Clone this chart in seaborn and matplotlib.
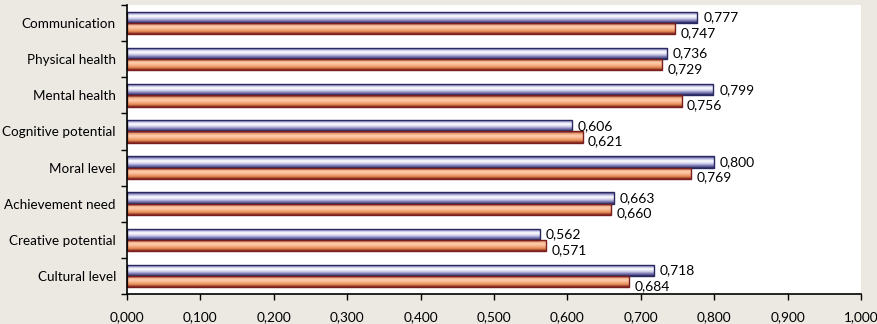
import numpy as np
import pandas as pd
import seaborn as sns
import matplotlib.pyplot as plt
from matplotlib.colors import LinearSegmentedColormap
from matplotlib.ticker import FuncFormatter, FixedLocator

categories = ['Communication', 'Physical health', 'Mental health', 'Cognitive potential',
              'Moral level', 'Achievement need', 'Creative potential', 'Cultural level']
series_a = [0.777, 0.736, 0.799, 0.606, 0.800, 0.663, 0.562, 0.718]
series_b = [0.747, 0.729, 0.756, 0.621, 0.769, 0.660, 0.571, 0.684]
series_names = ['A', 'B']

df = pd.DataFrame({
    'category': categories * 2,
    'value': series_a + series_b,
    'series': [series_names[0]] * len(categories) + [series_names[1]] * len(categories),
})

sns.set_theme(style='white')
plt.rcParams['font.family'] = ['Lato', 'DejaVu Sans']

fig = plt.figure(figsize=(8.78, 3.24), dpi=100)
fig.patch.set_facecolor('#ECE9E3')
ax = fig.add_axes([127 / 878, 1 - 294 / 324, 734 / 878, 289 / 324])
ax.set_facecolor('white')

sns.barplot(data=df, y='category', x='value', hue='series', order=categories,
            orient='h', width=0.62, palette=['#D8D8F0', '#F8B088'],
            legend=False, ax=ax)

edge_cols = ['#2A2860', '#7A1E1E']
cmaps = [
    LinearSegmentedColormap.from_list('blue', ['#2A2860', '#A8A8D8', '#FFFFFF', '#D8D8F0', '#8080B8', '#2A2860']),
    LinearSegmentedColormap.from_list('red', ['#7A1E1E', '#F0A070', '#FCD0B0', '#F8B088', '#E08850', '#7A1E1E']),
]
grad = np.linspace(0, 1, 64).reshape(-1, 1)

ax.set_xlim(0, 1.0)
ax.set_ylim(len(categories) - 0.5, -0.5)

n = len(categories)
for i, p in enumerate(ax.patches[:2 * n]):
    s = i // n
    p.set_edgecolor(edge_cols[s])
    p.set_linewidth(1.0)
    x0, y0 = p.get_x(), p.get_y()
    w, h = p.get_width(), p.get_height()
    im = ax.imshow(grad, cmap=cmaps[s], aspect='auto', extent=(x0, x0 + w, y0 + h, y0),
                   origin='upper', zorder=p.get_zorder() + 0.1)
    im.set_clip_path(p)
    p.set_zorder(p.get_zorder() + 0.2)
    p.set_facecolor('none')
    lbl = f'{w:.3f}'.replace('.', ',')
    dx = 0.008 if s == 0 else 0.007
    ax.text(x0 + w + dx, y0 + h / 2 + (0 if s == 0 else 0.12), lbl,
            va='center', ha='left', fontsize=10, color='black', zorder=5)

ax.set_xlim(0, 1.0)
ax.set_ylim(len(categories) - 0.5, -0.5)

ax.set_xticks(np.arange(0, 1.01, 0.1))
ax.xaxis.set_major_formatter(FuncFormatter(lambda v, _: f'{v:.3f}'.replace('.', ',')))
ax.yaxis.set_minor_locator(FixedLocator(np.arange(-0.5, len(categories), 1.0)))
ax.tick_params(axis='y', which='major', length=0, pad=8, labelsize=9.7, colors='black')
ax.tick_params(axis='y', which='minor', left=True, length=4, width=1, color='black')
ax.tick_params(axis='x', which='major', bottom=True, length=4, width=1, color='black',
               labelsize=9.8, pad=8, labelcolor='black')

ax.set_xlabel('')
ax.set_ylabel('')
for side in ['top', 'right']:
    ax.spines[side].set_visible(False)
for side in ['left', 'bottom']:
    ax.spines[side].set_color('black')
    ax.spines[side].set_linewidth(1.2)

fig.savefig('out.png', dpi=100, facecolor=fig.get_facecolor())
